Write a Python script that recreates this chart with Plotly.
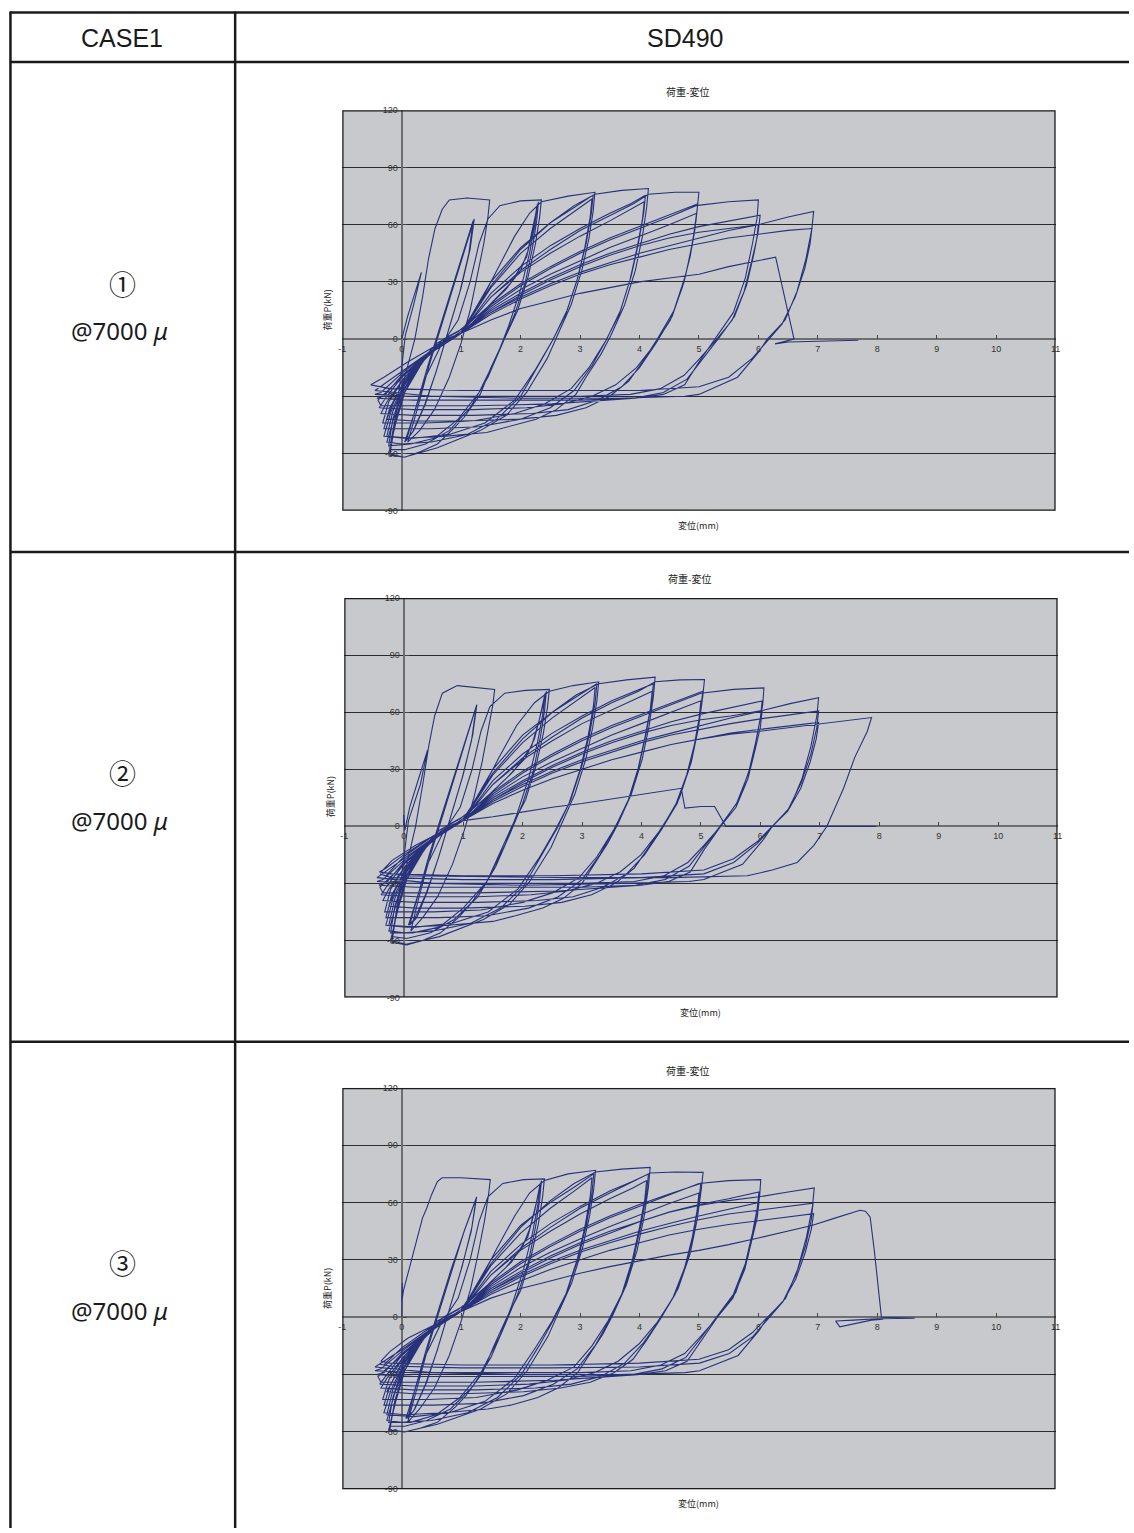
import plotly.graph_objects as go

W, H = 1134, 1533

# ---------------- text content ----------------
header_left = "CASE1"
header_right = "SD490"
row_marks = ["①", "②", "③"]
row_strain = ["@7000 <i>μ</i>", "@7000 <i>μ</i>", "@7000 <i>μ</i>"]
chart_title = "荷重-変位"
x_title = "変位(mm)"
y_title = "荷重P(kN)"
x_tick_vals = [-1, 0, 1, 2, 3, 4, 5, 6, 7, 8, 9, 10, 11]
x_tick_text = ["-1", "0", "1", "2", "3", "4", "5", "6", "7", "8", "9", "10", "11"]
y_tick_vals = [-90, -60, -30, 0, 30, 60, 90, 120]
y_tick_text = ["-90", "-60", "-30", "0", "30", "60", "90", "120"]

# ---------------- data: (displacement mm, load kN) ----------------
curve1 = [
    (0, 0), (0.1, 12), (0.22, 24), (0.33, 35), (0.2, 18), (0.06, 2), (0.0, -15), (-0.08, -36), (-0.2, -57),
    (-0.1, -40), (0.05, -20), (0.22, 0), (0.35, 22), (0.45, 42), (0.56, 58), (0.68, 68), (0.8, 73), (1.1, 74), (1.48, 73),
    (1.45, 64), (1.38, 50), (1.28, 34), (1.15, 15), (1.0, -2), (0.8, -20), (0.55, -37), (0.3, -48), (0.1, -54),
    (0.25, -38), (0.45, -15), (0.65, 5), (0.85, 25), (1.05, 45), (1.22, 63),
    (1.15, 47), (1.0, 27), (0.8, 6), (0.6, -15), (0.4, -34), (0.2, -48), (0.08, -53),
    (0.22, -38), (0.42, -16), (0.62, 4), (0.82, 24), (1.02, 44), (1.2, 62),
    (1.13, 45), (0.98, 25), (0.78, 4), (0.58, -17), (0.38, -35), (0.18, -49), (0.05, -54),
    (0.2, -40), (0.4, -20), (0.65, -4), (0.95, 10), (1.15, 30), (1.3, 50), (1.45, 63), (1.65, 70), (2.0, 72.5), (2.35, 73),
    (2.32, 64), (2.25, 50), (2.12, 32), (1.95, 15), (1.72, 0), (1.5, -15), (1.32, -29), (1.05, -41), (0.87, -47), (0.6, -55), (0.32, -59), (0.05, -62), (-0.2, -61),
    (-0.12, -45), (0.05, -28), (0.3, -12), (0.6, -2), (0.95, 4), (1.35, 14), (1.75, 26), (2.0, 36), (2.12, 46), (2.2, 58), (2.3, 72),
    (2.27, 62), (2.2, 48), (2.08, 30), (1.9, 13), (1.7, -2), (1.45, -20), (1.15, -36), (0.8, -48), (0.4, -55), (0.05, -58), (-0.2, -58),
    (-0.1, -42), (0.05, -26), (0.35, -11), (0.7, 0), (1.05, 6), (1.45, 17), (1.85, 30), (2.1, 43), (2.2, 56), (2.28, 70.5),
    (2.24, 60), (2.15, 45), (2.0, 26), (1.8, 7), (1.6, -9), (1.3, -28), (0.95, -42), (0.55, -52), (0.15, -55), (-0.22, -56),
    (-0.15, -42), (0.0, -28), (0.3, -13), (0.7, -2), (1.0, 4), (1.3, 18), (1.6, 36), (1.9, 54), (2.15, 66), (2.35, 72), (2.8, 75), (3.25, 77),
    (3.22, 67), (3.15, 53), (3.03, 36), (2.85, 18), (2.62, 2), (2.45, -10), (2.1, -28), (1.76, -40), (1.32, -48), (0.6, -57), (0.04, -62), (-0.22, -60),
    (-0.1, -44), (0.05, -28), (0.35, -12), (0.7, -1), (1.0, 3), (1.5, 30), (2.0, 48), (2.5, 61), (2.9, 69), (3.22, 75.5),
    (3.19, 66), (3.1, 50), (2.97, 33), (2.78, 15), (2.55, 0), (2.3, -14), (2.0, -30), (1.6, -42), (1.1, -50), (0.5, -54), (0.0, -55), (-0.25, -54),
    (-0.12, -40), (0.05, -26), (0.4, -10), (0.75, -1), (1.0, 3), (1.5, 27), (2.0, 45), (2.5, 58), (2.9, 67), (3.2, 73.5),
    (3.17, 64), (3.08, 48), (2.95, 31), (2.76, 13), (2.53, -1), (2.25, -16), (1.9, -32), (1.4, -44), (0.8, -50), (0.2, -52), (-0.25, -51),
    (-0.15, -38), (0.05, -24), (0.4, -9), (0.75, 0), (1.0, 3), (1.5, 28), (2.0, 47), (2.5, 61), (2.9, 70), (3.25, 76), (3.7, 78), (4.15, 79),
    (4.12, 69), (4.05, 54), (3.93, 36), (3.75, 18), (3.52, 2), (3.35, -8), (3.1, -20), (2.93, -29), (2.6, -37), (2.26, -42), (1.8, -46), (1.43, -49), (0.7, -51), (0.05, -52), (-0.3, -51),
    (-0.18, -38), (0.05, -23), (0.45, -8), (0.8, 0), (1.0, 3), (1.5, 24), (2.0, 38), (2.5, 49), (3.0, 58), (3.5, 66), (3.85, 71), (4.1, 75.5),
    (4.07, 66), (3.98, 50), (3.86, 33), (3.68, 15), (3.45, 0), (3.2, -14), (2.9, -27), (2.5, -36), (2.0, -42), (1.3, -46), (0.5, -47), (-0.3, -47),
    (-0.2, -36), (0.05, -22), (0.45, -8), (0.8, 0), (1.0, 3), (1.5, 22), (2.0, 35), (2.5, 45), (3.0, 54), (3.5, 62), (3.85, 68), (4.08, 72),
    (4.05, 63), (3.96, 48), (3.84, 31), (3.66, 13), (3.43, -1), (3.15, -15), (2.85, -26), (2.4, -34), (1.9, -39), (1.2, -43), (0.4, -44), (-0.32, -44),
    (-0.22, -33), (0.05, -20), (0.45, -7), (0.8, 0), (1.0, 3), (1.5, 22), (2.0, 36), (2.5, 47), (3.0, 57), (3.5, 65), (3.9, 71), (4.15, 76), (4.6, 77), (5.0, 77),
    (4.97, 68), (4.9, 52), (4.78, 34), (4.58, 15), (4.3, 0), (4.05, -12), (3.82, -22), (3.5, -30), (3.1, -36), (2.6, -40), (1.98, -42), (1.0, -43), (0.2, -43), (-0.25, -42),
    (-0.15, -34), (0.05, -21), (0.45, -8), (0.85, 0), (1.0, 3), (1.5, 18), (2.0, 29), (2.5, 38), (3.0, 46), (3.5, 53), (4.0, 59), (4.5, 65), (4.98, 71),
    (4.95, 62), (4.87, 47), (4.75, 30), (4.55, 12), (4.28, -2), (4.0, -15), (3.7, -25), (3.3, -32), (2.8, -37), (2.2, -39), (1.2, -40), (0.2, -40), (-0.35, -39),
    (-0.25, -33), (0.05, -20), (0.5, -7), (0.85, 0), (1.0, 3), (1.5, 16), (2.0, 26), (2.5, 34), (3.0, 41), (3.5, 48), (4.0, 54), (4.5, 60), (4.96, 66),
    (4.93, 57), (4.85, 43), (4.72, 27), (4.52, 10), (4.25, -3), (3.95, -15), (3.6, -24), (3.2, -30), (2.7, -34), (2.1, -36), (1.2, -37), (0.2, -37), (-0.38, -36),
    (-0.25, -30), (0.05, -18), (0.5, -6), (0.85, 0), (1.0, 3), (1.5, 17), (2.0, 28), (2.5, 37), (3.0, 45), (3.5, 52), (4.0, 58), (4.5, 64), (4.95, 70), (5.5, 72), (6.0, 73),
    (5.98, 64), (5.9, 50), (5.78, 32), (5.58, 14), (5.27, 0), (5.0, -12), (4.76, -24), (4.4, -29), (3.93, -31), (3.0, -33), (2.53, -34), (1.2, -35), (0.2, -35), (-0.35, -35),
    (-0.4, -32), (0.0, -20), (0.5, -7), (0.9, 1), (1.0, 3), (1.5, 15), (2.0, 24), (2.5, 32), (3.0, 39), (3.5, 45), (4.0, 50), (4.5, 55), (5.0, 59), (5.5, 62), (6.03, 65),
    (6.0, 57), (5.92, 44), (5.8, 28), (5.6, 12), (5.32, 0), (5.05, -11), (4.8, -21), (4.4, -28), (3.9, -31), (3.0, -32), (1.5, -32), (0.2, -32), (-0.42, -31),
    (-0.3, -30), (0.0, -19), (0.5, -7), (0.9, 1), (1.0, 3), (1.5, 14), (2.0, 22), (2.5, 29), (3.0, 35), (3.5, 40), (4.0, 45), (4.5, 49), (5.0, 53), (5.5, 57), (6.0, 60),
    (5.97, 52), (5.88, 40), (5.76, 25), (5.56, 10), (5.3, 0), (5.02, -10), (4.75, -19), (4.35, -26), (3.85, -29), (3.0, -30), (1.5, -30), (0.2, -30), (-0.45, -29),
    (-0.35, -28), (0.0, -18), (0.5, -6), (0.9, 1), (1.0, 3), (1.5, 14), (2.0, 23), (2.5, 31), (3.0, 38), (3.5, 44), (4.0, 49), (4.5, 53), (5.0, 56), (5.5, 58), (6.0, 60), (6.5, 64), (6.93, 67),
    (6.9, 58), (6.8, 42), (6.65, 25), (6.45, 10), (6.15, 0), (6.0, -7), (5.65, -20), (5.0, -29), (4.76, -30), (3.65, -31), (2.0, -31), (0.5, -30), (-0.45, -27),
    (0.0, -17), (0.5, -6), (0.9, 1), (1.0, 3), (1.5, 13), (2.0, 21), (2.5, 28), (3.0, 34), (3.5, 39), (4.0, 43), (4.5, 47), (5.0, 50), (5.5, 53), (6.0, 55), (6.5, 57), (6.9, 58),
    (6.87, 50), (6.78, 37), (6.62, 22), (6.4, 8), (6.12, -2), (5.9, -10), (5.5, -20), (5.0, -25), (4.0, -27), (2.5, -27), (1.0, -27), (-0.2, -26), (-0.52, -24),
    (-0.3, -20), (0.1, -12), (0.6, -3), (1.0, 3), (1.5, 10), (2.0, 16), (2.5, 20), (3.0, 24), (3.5, 27), (4.0, 30), (4.5, 32), (5.0, 34), (5.5, 38), (6.0, 41), (6.29, 43),
    (6.6, 0), (6.28, -2.5), (6.5, -1.5), (7.0, -1), (7.68, -0.6),
]

curve2 = [
    (0, 0), (0.0, 6), (0.02, -2), (0.1, 10), (0.25, 25), (0.4, 40), (0.28, 22), (0.08, 3), (0.02, -12), (-0.06, -32), (-0.18, -56),
    (-0.1, -40), (0.05, -20), (0.2, 0), (0.32, 22), (0.42, 42), (0.52, 58), (0.65, 70), (0.9, 74), (1.2, 73), (1.53, 72),
    (1.5, 64), (1.42, 50), (1.32, 34), (1.18, 15), (1.02, -2), (0.82, -20), (0.57, -37), (0.32, -48), (0.12, -55),
    (0.25, -38), (0.45, -15), (0.65, 5), (0.85, 25), (1.05, 46), (1.23, 64),
    (1.16, 48), (1.0, 27), (0.8, 6), (0.6, -15), (0.4, -34), (0.22, -48), (0.1, -52),
    (0.22, -38), (0.42, -16), (0.62, 4), (0.82, 24), (1.02, 44), (1.22, 63),
    (1.14, 45), (0.98, 25), (0.78, 4), (0.58, -17), (0.38, -35), (0.18, -49), (0.08, -52),
    (0.2, -40), (0.4, -20), (0.65, -4), (0.95, 10), (1.15, 30), (1.3, 50), (1.45, 63), (1.7, 70), (2.05, 71.5), (2.45, 72),
    (2.42, 63), (2.35, 49), (2.22, 31), (2.05, 14), (1.82, 0), (1.6, -15), (1.4, -29), (1.12, -41), (0.92, -48), (0.62, -56), (0.32, -60), (0.05, -62.4), (-0.2, -61),
    (-0.12, -45), (0.05, -28), (0.3, -12), (0.6, -2), (0.95, 4), (1.35, 14), (1.75, 26), (2.05, 36), (2.2, 46), (2.3, 58), (2.4, 71),
    (2.37, 61), (2.3, 47), (2.18, 29), (2.0, 12), (1.8, -3), (1.55, -21), (1.25, -37), (0.85, -49), (0.45, -56), (0.05, -59), (-0.2, -58),
    (-0.1, -42), (0.05, -26), (0.35, -11), (0.7, 0), (1.05, 6), (1.45, 17), (1.85, 29), (2.15, 42), (2.28, 56), (2.38, 70),
    (2.34, 59), (2.25, 44), (2.1, 25), (1.9, 6), (1.7, -10), (1.4, -29), (1.0, -43), (0.6, -53), (0.15, -56), (-0.22, -56),
    (-0.15, -42), (0.0, -28), (0.3, -13), (0.7, -2), (1.0, 4), (1.3, 18), (1.6, 36), (1.9, 53), (2.2, 65), (2.45, 71), (2.85, 74), (3.28, 76),
    (3.25, 66), (3.18, 52), (3.06, 35), (2.88, 17), (2.65, 1), (2.48, -11), (2.12, -29), (1.78, -41), (1.34, -49), (0.6, -58), (0.04, -62), (-0.22, -60),
    (-0.1, -44), (0.05, -28), (0.35, -12), (0.7, -1), (1.0, 3), (1.5, 30), (2.0, 48), (2.5, 60), (2.9, 68), (3.25, 75),
    (3.22, 65), (3.13, 49), (3.0, 32), (2.81, 14), (2.58, -1), (2.33, -15), (2.03, -31), (1.63, -43), (1.13, -51), (0.5, -55), (0.0, -56), (-0.25, -55),
    (-0.12, -40), (0.05, -26), (0.4, -10), (0.75, -1), (1.0, 3), (1.5, 27), (2.0, 44), (2.5, 57), (2.9, 66), (3.22, 73),
    (3.19, 63), (3.1, 47), (2.97, 30), (2.78, 12), (2.55, -2), (2.27, -17), (1.92, -33), (1.42, -45), (0.82, -51), (0.2, -53), (-0.25, -52),
    (-0.15, -38), (0.05, -24), (0.4, -9), (0.75, 0), (1.0, 3), (1.5, 28), (2.0, 46), (2.5, 60), (2.9, 69), (3.28, 75), (3.75, 77), (4.23, 78.4),
    (4.2, 68), (4.13, 53), (4.01, 35), (3.83, 17), (3.6, 1), (3.43, -9), (3.18, -21), (3.0, -30), (2.68, -38), (2.34, -43), (1.88, -47), (1.5, -50), (0.75, -52), (0.05, -53), (-0.3, -52),
    (-0.18, -38), (0.05, -23), (0.45, -8), (0.8, 0), (1.0, 3), (1.5, 24), (2.0, 38), (2.5, 49), (3.0, 58), (3.5, 66), (3.9, 71), (4.2, 75),
    (4.17, 65), (4.08, 49), (3.96, 32), (3.78, 14), (3.55, -1), (3.3, -15), (3.0, -28), (2.6, -37), (2.1, -43), (1.4, -47), (0.6, -48), (-0.3, -48),
    (-0.2, -36), (0.05, -22), (0.45, -8), (0.8, 0), (1.0, 3), (1.5, 22), (2.0, 35), (2.5, 45), (3.0, 54), (3.5, 61), (3.9, 67), (4.18, 71),
    (4.15, 62), (4.06, 47), (3.94, 30), (3.76, 12), (3.53, -2), (3.25, -16), (2.95, -27), (2.5, -35), (2.0, -40), (1.3, -44), (0.5, -45), (-0.32, -45),
    (-0.22, -33), (0.05, -20), (0.45, -7), (0.8, 0), (1.0, 3), (1.5, 22), (2.0, 36), (2.5, 47), (3.0, 57), (3.5, 65), (3.95, 71), (4.23, 76), (4.65, 77), (5.06, 77.2),
    (5.03, 68), (4.96, 52), (4.84, 34), (4.64, 15), (4.36, 0), (4.1, -12), (3.88, -22), (3.56, -30), (3.16, -36), (2.66, -40), (2.04, -42), (1.0, -43), (0.2, -43), (-0.25, -42),
    (-0.15, -34), (0.05, -21), (0.45, -8), (0.85, 0), (1.0, 3), (1.5, 18), (2.0, 29), (2.5, 38), (3.0, 46), (3.5, 53), (4.0, 59), (4.5, 65), (5.03, 71),
    (5.0, 62), (4.92, 47), (4.8, 30), (4.6, 12), (4.33, -2), (4.05, -15), (3.75, -25), (3.35, -32), (2.85, -37), (2.25, -39), (1.25, -40), (0.2, -40), (-0.35, -39),
    (-0.25, -33), (0.05, -20), (0.5, -7), (0.85, 0), (1.0, 3), (1.5, 16), (2.0, 26), (2.5, 34), (3.0, 41), (3.5, 48), (4.0, 54), (4.5, 60), (5.0, 66),
    (4.97, 57), (4.89, 43), (4.76, 27), (4.56, 10), (4.29, -3), (3.99, -15), (3.64, -24), (3.24, -30), (2.74, -34), (2.14, -36), (1.24, -37), (0.2, -37), (-0.38, -36),
    (-0.25, -30), (0.05, -18), (0.5, -6), (0.85, 0), (1.0, 3), (1.5, 17), (2.0, 28), (2.5, 37), (3.0, 45), (3.5, 52), (4.0, 58), (4.5, 64), (5.0, 70), (5.55, 72), (6.06, 72.8),
    (6.04, 64), (5.96, 50), (5.84, 32), (5.64, 14), (5.33, 0), (5.06, -12), (4.82, -24), (4.46, -29), (3.99, -31), (3.06, -33), (2.6, -34), (1.2, -35), (0.2, -35), (-0.35, -35),
    (-0.4, -32), (0.0, -20), (0.5, -7), (0.9, 1), (1.0, 3), (1.5, 15), (2.0, 24), (2.5, 32), (3.0, 39), (3.5, 45), (4.0, 50), (4.5, 55), (5.0, 59), (5.5, 62.5), (6.03, 65.9),
    (6.0, 57), (5.92, 44), (5.8, 28), (5.6, 12), (5.32, 0), (5.05, -11), (4.8, -21), (4.4, -28), (3.9, -31), (3.0, -32), (1.5, -32), (0.2, -32), (-0.42, -31),
    (-0.3, -30), (0.0, -19), (0.5, -7), (0.9, 1), (1.0, 3), (1.5, 14), (2.0, 22), (2.5, 29), (3.0, 35), (3.5, 40), (4.0, 45), (4.5, 49), (5.0, 53), (5.5, 57), (6.03, 60.7),
    (6.0, 52), (5.91, 40), (5.79, 25), (5.59, 10), (5.33, 0), (5.05, -10), (4.78, -19), (4.38, -26), (3.88, -29), (3.0, -30), (1.5, -30), (0.2, -30), (-0.45, -29),
    (-0.35, -28), (0.0, -18), (0.5, -6), (0.9, 1), (1.0, 3), (1.5, 14), (2.0, 23), (2.5, 31), (3.0, 38), (3.5, 44), (4.0, 49), (4.5, 53), (5.0, 56), (5.5, 58), (6.05, 61), (6.5, 64.5), (6.98, 67.6),
    (6.95, 58), (6.85, 42), (6.7, 25), (6.5, 10), (6.2, 0), (6.05, -7), (5.7, -20), (5.05, -28), (4.8, -29), (3.7, -30), (2.0, -31), (0.5, -30), (-0.45, -27),
    (0.0, -17), (0.5, -6), (0.9, 1), (1.0, 3), (1.5, 13), (2.0, 21), (2.5, 28), (3.0, 34), (3.5, 39), (4.0, 44), (4.5, 48), (5.0, 51), (5.5, 54), (6.0, 56.5), (6.5, 58.5), (6.98, 60.7),
    (6.95, 52), (6.85, 38), (6.69, 23), (6.47, 9), (6.18, -1), (5.95, -9), (5.55, -19), (5.05, -25), (4.0, -27), (2.5, -28), (1.0, -28), (-0.2, -27), (-0.4, -25),
    (-0.3, -26), (0.0, -16), (0.5, -5), (0.9, 1), (1.0, 3), (1.5, 12), (2.0, 19), (2.5, 25), (3.0, 30), (3.5, 35), (4.0, 39), (4.5, 43), (5.0, 46), (5.5, 49), (6.0, 51), (6.5, 53), (6.98, 54.6),
    (6.94, 46), (6.84, 34), (6.68, 20), (6.46, 8), (6.17, -1), (5.95, -8), (5.55, -17), (5.05, -23), (4.0, -25), (2.5, -26), (1.0, -26), (-0.2, -25), (-0.41, -24),
    (-0.3, -22), (0.0, -15), (0.5, -5), (0.9, 1), (1.0, 3), (1.5, 12), (2.0, 19), (2.5, 25), (3.0, 30), (3.5, 35), (4.0, 39), (4.5, 43), (5.0, 46), (5.5, 48.5), (6.0, 50), (6.5, 52), (7.0, 54), (7.5, 56), (7.87, 57.2),
    (7.8, 50), (7.59, 36.4), (7.4, 20), (7.12, 0), (6.9, -10), (6.62, -19), (6.2, -23), (5.78, -26), (4.5, -27), (3.0, -27), (1.5, -26.5), (0.0, -26), (-0.38, -24),
    (-0.2, -18), (0.2, -10), (0.7, -2), (1.0, 3), (1.5, 5), (2.0, 7.5), (2.5, 10), (3.0, 12), (3.5, 14.5), (4.0, 17), (4.67, 20),
    (4.73, 9.6), (5.0, 10.4), (5.23, 10.4), (5.42, 0), (6.0, 0), (7.0, 0), (7.95, 0),
]

curve3 = [
    (0, 0), (0.01, 18), (0.0, 8), (0.03, 14), (0.12, 25), (0.25, 40), (0.35, 52), (0.42, 57), (0.5, 64), (0.6, 71), (0.68, 73), (1.0, 73), (1.49, 72),
    (1.46, 64), (1.39, 50), (1.29, 34), (1.16, 15), (1.0, -2), (0.8, -20), (0.55, -37), (0.3, -48), (0.1, -55),
    (0.25, -38), (0.45, -15), (0.65, 5), (0.85, 25), (1.05, 45), (1.26, 63),
    (1.18, 47), (1.02, 27), (0.82, 6), (0.62, -15), (0.42, -34), (0.22, -48), (0.1, -53),
    (0.22, -38), (0.42, -16), (0.62, 4), (0.82, 24), (1.04, 44), (1.25, 62),
    (1.17, 45), (1.0, 25), (0.8, 4), (0.6, -17), (0.4, -35), (0.2, -49), (0.07, -53),
    (0.2, -40), (0.4, -20), (0.65, -4), (0.95, 10), (1.15, 30), (1.3, 50), (1.45, 63), (1.7, 70), (2.05, 72), (2.4, 72.4),
    (2.37, 63), (2.3, 49), (2.17, 31), (2.0, 14), (1.77, 0), (1.55, -15), (1.36, -29), (1.08, -41), (0.9, -47), (0.6, -55), (0.32, -58), (0.05, -60), (-0.2, -59),
    (-0.12, -44), (0.05, -28), (0.3, -12), (0.6, -2), (0.95, 4), (1.35, 14), (1.75, 26), (2.02, 36), (2.15, 46), (2.25, 58), (2.35, 71.5),
    (2.32, 61), (2.25, 47), (2.13, 29), (1.95, 12), (1.75, -3), (1.5, -21), (1.2, -36), (0.82, -48), (0.42, -54), (0.05, -57), (-0.2, -57),
    (-0.1, -42), (0.05, -26), (0.35, -11), (0.7, 0), (1.05, 6), (1.45, 17), (1.85, 29), (2.12, 42), (2.24, 56), (2.33, 70),
    (2.29, 59), (2.2, 44), (2.05, 25), (1.85, 6), (1.65, -10), (1.35, -28), (0.98, -42), (0.58, -51), (0.15, -55), (-0.22, -55),
    (-0.15, -42), (0.0, -28), (0.3, -13), (0.7, -2), (1.0, 4), (1.3, 18), (1.6, 36), (1.9, 53), (2.15, 65), (2.4, 71.5), (2.8, 75), (3.26, 76.9),
    (3.23, 67), (3.16, 53), (3.04, 36), (2.86, 18), (2.63, 2), (2.46, -10), (2.11, -28), (1.77, -40), (1.33, -48), (0.6, -56), (0.04, -60), (-0.22, -59),
    (-0.1, -44), (0.05, -28), (0.35, -12), (0.7, -1), (1.0, 3), (1.5, 30), (2.0, 48), (2.5, 60), (2.9, 68), (3.23, 75),
    (3.2, 65), (3.11, 49), (2.98, 32), (2.79, 14), (2.56, -1), (2.31, -15), (2.01, -30), (1.61, -42), (1.11, -50), (0.5, -54), (0.0, -55), (-0.25, -54),
    (-0.12, -40), (0.05, -26), (0.4, -10), (0.75, -1), (1.0, 3), (1.5, 27), (2.0, 44), (2.5, 57), (2.9, 66), (3.2, 73),
    (3.17, 63), (3.08, 47), (2.95, 30), (2.76, 12), (2.53, -2), (2.25, -16), (1.9, -32), (1.4, -44), (0.8, -50), (0.2, -52), (-0.25, -51),
    (-0.15, -38), (0.05, -24), (0.4, -9), (0.75, 0), (1.0, 3), (1.5, 28), (2.0, 47), (2.5, 61), (2.9, 70), (3.26, 76), (3.7, 77.5), (4.18, 78.4),
    (4.15, 68), (4.08, 53), (3.96, 35), (3.78, 17), (3.55, 1), (3.38, -9), (3.13, -21), (2.96, -29), (2.63, -37), (2.29, -42), (1.83, -46), (1.45, -48), (0.7, -50), (0.05, -51), (-0.3, -50),
    (-0.18, -38), (0.05, -23), (0.45, -8), (0.8, 0), (1.0, 3), (1.5, 24), (2.0, 38), (2.5, 49), (3.0, 58), (3.5, 66), (3.88, 71), (4.15, 75),
    (4.12, 65), (4.03, 49), (3.91, 32), (3.73, 14), (3.5, -1), (3.25, -15), (2.95, -27), (2.55, -35), (2.05, -41), (1.35, -45), (0.55, -46), (-0.3, -46),
    (-0.2, -36), (0.05, -22), (0.45, -8), (0.8, 0), (1.0, 3), (1.5, 22), (2.0, 35), (2.5, 45), (3.0, 54), (3.5, 62), (3.88, 67.5), (4.12, 71.5),
    (4.09, 62), (4.0, 47), (3.88, 30), (3.7, 12), (3.47, -2), (3.2, -15), (2.9, -26), (2.45, -33), (1.95, -38), (1.25, -42), (0.45, -43), (-0.32, -43),
    (-0.22, -33), (0.05, -20), (0.45, -7), (0.8, 0), (1.0, 3), (1.5, 22), (2.0, 36), (2.5, 47), (3.0, 57), (3.5, 65), (3.9, 71), (4.18, 75.5), (4.6, 76), (5.07, 75.8),
    (5.04, 67), (4.97, 51), (4.85, 33), (4.65, 15), (4.37, 0), (4.12, -12), (3.89, -22), (3.57, -29), (3.17, -34), (2.67, -37), (2.05, -39), (1.0, -40), (0.2, -40), (-0.25, -39),
    (-0.15, -33), (0.05, -21), (0.45, -8), (0.85, 0), (1.0, 3), (1.5, 18), (2.0, 29), (2.5, 38), (3.0, 46), (3.5, 53), (4.0, 59), (4.5, 64.5), (5.03, 70),
    (5.0, 61), (4.92, 46), (4.8, 29), (4.6, 12), (4.33, -2), (4.05, -14), (3.75, -24), (3.35, -31), (2.85, -35), (2.25, -37), (1.25, -38), (0.2, -38), (-0.35, -37),
    (-0.25, -32), (0.05, -20), (0.5, -7), (0.85, 0), (1.0, 3), (1.5, 16), (2.0, 26), (2.5, 34), (3.0, 41), (3.5, 47.5), (4.0, 53.5), (4.5, 59.5), (5.0, 65),
    (4.97, 56), (4.89, 42), (4.76, 26), (4.56, 10), (4.29, -3), (3.99, -14), (3.64, -23), (3.24, -29), (2.74, -33), (2.14, -35), (1.24, -36), (0.2, -36), (-0.37, -35),
    (-0.25, -30), (0.05, -18), (0.5, -6), (0.85, 0), (1.0, 3), (1.5, 17), (2.0, 28), (2.5, 37), (3.0, 45), (3.5, 52), (4.0, 58), (4.5, 64), (5.0, 70), (5.5, 71.5), (6.04, 72),
    (6.02, 63), (5.94, 49), (5.82, 31), (5.62, 13), (5.31, 0), (5.04, -12), (4.8, -23), (4.44, -28), (3.97, -30), (3.04, -32), (2.57, -33), (1.2, -34), (0.2, -34), (-0.35, -34),
    (-0.4, -31), (0.0, -20), (0.5, -7), (0.9, 1), (1.0, 3), (1.5, 15), (2.0, 24), (2.5, 32), (3.0, 39), (3.5, 45), (4.0, 50), (4.5, 55), (5.0, 59), (5.5, 62), (6.01, 65.5),
    (5.98, 57), (5.9, 44), (5.78, 28), (5.58, 12), (5.3, 0), (5.03, -11), (4.78, -21), (4.38, -27), (3.88, -30), (3.0, -31), (1.5, -31), (0.2, -31), (-0.42, -30),
    (-0.3, -29), (0.0, -19), (0.5, -7), (0.9, 1), (1.0, 3), (1.5, 14), (2.0, 22), (2.5, 29), (3.0, 35), (3.5, 40), (4.0, 45), (4.5, 49), (5.0, 53), (5.5, 56.5), (6.01, 60),
    (5.98, 52), (5.89, 40), (5.77, 25), (5.57, 10), (5.31, 0), (5.03, -10), (4.76, -19), (4.36, -25), (3.86, -28), (3.0, -29), (1.5, -29), (0.2, -29), (-0.45, -28),
    (-0.35, -27), (0.0, -18), (0.5, -6), (0.9, 1), (1.0, 3), (1.5, 14), (2.0, 23), (2.5, 31), (3.0, 38), (3.5, 44), (4.0, 50), (4.5, 55), (5.0, 58.5), (5.5, 61), (6.01, 63), (6.5, 65.5), (6.94, 67.7),
    (6.91, 58), (6.81, 42), (6.66, 25), (6.46, 10), (6.16, 0), (6.01, -7), (5.66, -20), (5.01, -28), (4.77, -29), (3.66, -30), (2.0, -30), (0.5, -29), (-0.45, -26),
    (0.0, -17), (0.5, -6), (0.9, 1), (1.0, 3), (1.5, 13), (2.0, 21), (2.5, 28), (3.0, 34), (3.5, 39), (4.0, 43.5), (4.5, 47.5), (5.0, 51), (5.5, 54), (6.0, 56), (6.5, 58), (6.92, 59.7),
    (6.89, 51), (6.79, 37), (6.63, 22), (6.41, 8), (6.13, -2), (5.91, -10), (5.51, -19), (5.01, -24), (4.0, -26), (2.5, -26.5), (1.0, -26.5), (-0.2, -25.5), (-0.37, -24.6),
    (-0.3, -25), (0.0, -16), (0.5, -5), (0.9, 1), (1.0, 3), (1.5, 12), (2.0, 19), (2.5, 25), (3.0, 30), (3.5, 35), (4.0, 39), (4.5, 43), (5.0, 46), (5.5, 48.5), (6.0, 50.5), (6.5, 52.5), (6.93, 54.2),
    (6.89, 46), (6.79, 34), (6.63, 20), (6.41, 8), (6.12, -1), (5.9, -8), (5.5, -17), (5.0, -22), (4.0, -24), (2.5, -25), (1.0, -25), (-0.2, -24), (-0.35, -23),
    (-0.2, -18), (0.1, -11), (0.6, -3), (1.0, 3), (1.5, 10), (2.0, 15), (2.5, 19), (3.0, 23), (3.5, 26.5), (4.0, 29.5), (4.5, 32.5), (5.0, 35), (5.5, 38), (6.0, 41.5), (6.5, 45), (6.9, 48), (7.3, 52), (7.71, 56),
    (7.8, 55.5), (7.88, 52.5), (7.95, 35), (8.07, 0), (8.63, -0.5), (8.0, -0.8), (7.6, -1.5), (7.3, -2), (7.37, -5), (7.6, -3.5), (7.9, -1.5), (8.1, -1),
]

curves = [curve1, curve2, curve3]

# ---------------- layout geometry (pixels of the 1134x1533 page) ----------------
plot_boxes = [(341, 1060, 106, 509), (343, 1062, 597, 999), (341, 1060, 1090, 1494)]
title_pos = [(689, 87), (691, 577), (689, 1072)]
xtitle_pos = [(700, 524), (702, 1014), (700, 1508)]
ytitle_pos = [(327, 307), (329, 797), (326, 1292)]
row_mark_pos = [(119, 280), (119, 773), (119, 1266)]
row_strain_pos = [(116, 328), (116, 821), (116, 1314)]


def px(x):
    return x / W


def py(y):
    return 1 - y / H


LINE_COLOR = "#27327a"
BG = "#c8c9cc"
TICK_FONT = dict(family="Liberation Sans, Arial, sans-serif", size=9, color="#333333")
JP_FONT = "Noto Sans CJK JP, sans-serif"
HEAD_FONT = dict(family="Liberation Sans, Arial, sans-serif", size=25, color="#1a1a1a")

fig = go.Figure()
layout = {}
shapes = []
annotations = []

for i, (curve, box) in enumerate(zip(curves, plot_boxes)):
    n = "" if i == 0 else str(i + 1)
    xs = [p[0] for p in curve]
    ys = [p[1] for p in curve]
    fig.add_trace(go.Scatter(
        x=xs, y=ys, mode="lines",
        line=dict(color=LINE_COLOR, width=1.1),
        xaxis="x" + n, yaxis="y" + n,
        showlegend=False, hoverinfo="skip",
    ))
    L, R, T, B = box
    xd = [px(L), px(R)]
    yd = [py(B), py(T)]
    x0_paper = xd[0] + (xd[1] - xd[0]) * (1 / 12)
    y0_paper = yd[0] + (yd[1] - yd[0]) * (90 / 210)
    layout["xaxis" + n] = dict(
        domain=xd, range=[-1, 11], anchor="free", position=y0_paper,
        tickmode="array", tickvals=x_tick_vals, ticktext=x_tick_text,
        ticks="inside", ticklen=4, tickcolor="#444444", tickwidth=1,
        tickfont=TICK_FONT, ticklabelstandoff=3,
        showgrid=False, zeroline=True, zerolinecolor="#6e6e6e", zerolinewidth=2,
        showline=False, fixedrange=True,
    )
    layout["yaxis" + n] = dict(
        domain=yd, range=[-90, 120], anchor="free", position=x0_paper,
        tickmode="array", tickvals=y_tick_vals, ticktext=y_tick_text,
        ticks="inside", ticklen=4, tickcolor="#444444", tickwidth=1,
        tickfont=TICK_FONT, ticklabelstandoff=4,
        showgrid=True, gridcolor="#2b2b2b", gridwidth=1,
        zeroline=True, zerolinecolor="#6e6e6e", zerolinewidth=2,
        showline=False, fixedrange=True,
    )
    shapes.append(dict(type="rect", xref="x" + n, yref="y" + n, x0=-1, x1=11, y0=-90, y1=120,
                       line=dict(color="#1c1c1c", width=2.5), layer="above"))
    tx, ty = title_pos[i]
    annotations.append(dict(text=chart_title, x=px(tx), y=py(ty), xref="paper", yref="paper",
                            showarrow=False, xanchor="center", yanchor="middle",
                            font=dict(family=JP_FONT, size=10, color="#222222")))
    tx, ty = xtitle_pos[i]
    annotations.append(dict(text=x_title, x=px(tx), y=py(ty), xref="paper", yref="paper",
                            showarrow=False, xanchor="center", yanchor="middle",
                            font=dict(family=JP_FONT, size=9, color="#222222")))
    tx, ty = ytitle_pos[i]
    annotations.append(dict(text=y_title, x=px(tx), y=py(ty), xref="paper", yref="paper",
                            showarrow=False, xanchor="center", yanchor="middle", textangle=-90,
                            font=dict(family=JP_FONT, size=9, color="#222222")))
    mx, my = row_mark_pos[i]
    annotations.append(dict(text=row_marks[i], x=px(mx), y=py(my), xref="paper", yref="paper",
                            showarrow=False, xanchor="center", yanchor="middle",
                            font=dict(family=JP_FONT, size=27, color="#1a1a1a")))
    sx, sy = row_strain_pos[i]
    annotations.append(dict(text=row_strain[i], x=px(sx), y=py(sy), xref="paper", yref="paper",
                            showarrow=False, xanchor="center", yanchor="middle",
                            font=dict(family="Noto Sans, sans-serif", size=24, color="#1a1a1a")))

annotations.append(dict(text=header_left, x=px(119), y=py(33), xref="paper", yref="paper",
                        showarrow=False, xanchor="center", yanchor="middle", font=HEAD_FONT))
annotations.append(dict(text=header_right, x=px(686), y=py(33), xref="paper", yref="paper",
                        showarrow=False, xanchor="center", yanchor="middle", font=HEAD_FONT))

TABLE = dict(color="#1a1a1a", width=2.5)
for yline in [7.5, 57.5, 550.5, 1043.5]:
    shapes.append(dict(type="line", xref="paper", yref="paper", x0=px(6), x1=1, y0=py(yline), y1=py(yline),
                       line=TABLE, layer="above"))
for xline in [6.5, 233]:
    shapes.append(dict(type="line", xref="paper", yref="paper", x0=px(xline), x1=px(xline), y0=py(6.5), y1=0,
                       line=TABLE, layer="above"))

fig.update_layout(
    width=W, height=H,
    margin=dict(l=0, r=0, t=0, b=0),
    paper_bgcolor="white", plot_bgcolor=BG,
    showlegend=False,
    shapes=shapes, annotations=annotations,
    **layout,
)

fig.write_html(
    "out.html",
    config={"displayModeBar": False, "staticPlot": True},
    post_script=(
        "document.documentElement.style.margin='0px';document.documentElement.style.padding='0px';"
        "document.body.style.margin='0px';document.body.style.padding='0px';"
        "document.body.style.overflow='hidden';document.documentElement.style.overflow='hidden';"
        "var gd=document.getElementById('{plot_id}');"
        "gd.style.position='fixed';gd.style.left='0px';gd.style.top='0px';"
    ),
)
